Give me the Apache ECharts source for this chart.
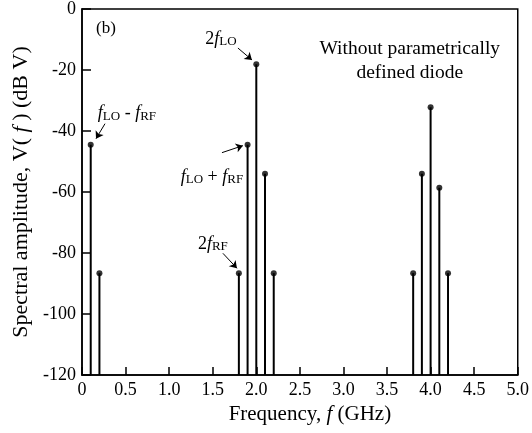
<!DOCTYPE html>
<html>
<head>
	<meta charset="utf-8">
	<title>Spectral amplitude</title>
	<script src="https://cdn.jsdelivr.net/npm/echarts@6/dist/echarts.min.js"></script>
	<style>
		html, body { margin: 0; padding: 0; background: #fff; }
		#chart { width: 532px; height: 433px; }
	</style>
</head>
<body>
	<div id="chart"></div>
	<script type="text/javascript">
	// spectral lines (GHz, dBV)
	var freqs = [0.1, 0.2, 1.8, 1.9, 2.0, 2.1, 2.2, 3.8, 3.9, 4.0, 4.1, 4.2];
	var amps = [-44.5, -86.6, -86.6, -44.5, -18.1, -54.0, -86.6, -86.6, -54.0, -32.2, -58.6, -86.6];
	var xTicks = [0, 0.5, 1.0, 1.5, 2.0, 2.5, 3.0, 3.5, 4.0, 4.5, 5.0];
	var yTicks = [-120, -100, -80, -60, -40, -20, 0];

	// annotation labels, placed in data coords
	var noteText = [
		'{b|(b)}',
		'{n|2}{i|f}{s|LO}',
		'{i|f}{s|LO}{n| - }{i|f}{s|RF}',
		'{i|f}{s|LO}{n| + }{i|f}{s|RF}',
		'{n|2}{i|f}{s|RF}',
		'{w|Without parametrically}\n{w|defined diode}'
	];
	var notePos = [[0.275, -6.5], [1.594, -9.5], [0.516, -34.0], [1.491, -54.9], [1.502, -76.8], [3.761, -17.0]];
	// arrows: from -> to
	var arrowFrom = [[1.789, -12.8], [0.264, -37.6], [1.606, -47.1], [1.617, -80.1]];
	var arrowTo = [[1.950, -16.7], [0.161, -42.5], [1.846, -44.8], [1.778, -85.0]];

	var serif = "'Liberation Serif', 'DejaVu Serif', serif";
	var yMin = yTicks[0];

	var points = freqs.map(function(f, i) { return [f, amps[i]]; });

	var rich = {
		b: { fontFamily: serif, fontSize: 17, color: '#000', lineHeight: 20 },
		n: { fontFamily: serif, fontSize: 18, color: '#000', lineHeight: 20, verticalAlign: 'bottom' },
		i: { fontFamily: serif, fontSize: 18, fontStyle: 'italic', color: '#000', lineHeight: 20, verticalAlign: 'bottom' },
		s: { fontFamily: serif, fontSize: 13, color: '#000', lineHeight: 12, verticalAlign: 'bottom' },
		w: { fontFamily: serif, fontSize: 19.5, color: '#000', lineHeight: 24, align: 'center' }
	};

	var myChart = echarts.init(document.getElementById('chart'));

	var option = {
		animation: false,
		backgroundColor: '#fff',
		grid: {
			left: 82,
			right: 14,
			top: 8,
			bottom: 58,
			show: true,
			borderColor: '#000',
			borderWidth: 1.5
		},
		xAxis: {
			type: 'value',
			min: xTicks[0],
			max: xTicks[xTicks.length - 1],
			interval: 0.5,
			name: '{n|Frequency, }{i|f}{n| (GHz)}',
			nameLocation: 'middle',
			nameGap: 19,
			nameTextStyle: {
				padding: [0, 0, 0, 20],
				rich: {
					n: { fontFamily: serif, fontSize: 21, color: '#000' },
					i: { fontFamily: serif, fontSize: 21, fontStyle: 'italic', color: '#000' }
				}
			},
			axisLine: { onZero: false, lineStyle: { color: '#000', width: 1.5 } },
			axisTick: { inside: true, length: 8, lineStyle: { color: '#000', width: 1.5 } },
			splitLine: { show: false },
			axisLabel: {
				showMinLabel: true,
				showMaxLabel: true,
				margin: 6,
				color: '#000',
				fontFamily: serif,
				fontSize: 18,
				formatter: function(v) { return v === 0 ? '0' : v.toFixed(1); }
			}
		},
		yAxis: {
			type: 'value',
			min: yMin,
			max: yTicks[yTicks.length - 1],
			interval: 20,
			name: '{n|Spectral amplitude, V( }{i|f}{n| ) (dB V)}',
			nameLocation: 'middle',
			nameGap: 45,
			nameTextStyle: {
				rich: {
					n: { fontFamily: serif, fontSize: 22, color: '#000' },
					i: { fontFamily: serif, fontSize: 22, fontStyle: 'italic', color: '#000' }
				}
			},
			axisLine: { onZero: false, lineStyle: { color: '#000', width: 1.5 } },
			axisTick: { inside: true, length: 9, lineStyle: { color: '#000', width: 1.5 } },
			splitLine: { show: false },
			axisLabel: {
				showMinLabel: true,
				showMaxLabel: true,
				margin: 6,
				color: '#000',
				fontFamily: serif,
				fontSize: 18
			}
		},
		series: [{
			// stems from the floor up to each level
			type: 'custom',
			data: points,
			silent: true,
			renderItem: function(params, api) {
				var top = api.coord([api.value(0), api.value(1)]);
				var bot = api.coord([api.value(0), yMin]);
				return {
					type: 'line',
					shape: { x1: top[0], y1: top[1], x2: bot[0], y2: bot[1] },
					style: { stroke: '#000', lineWidth: 2 }
				};
			}
		}, {
			type: 'scatter',
			data: points,
			symbol: 'circle',
			symbolSize: 6,
			itemStyle: { color: '#000' },
			silent: true,
			markPoint: {
				silent: true,
				symbol: 'rect',
				symbolSize: 1,
				itemStyle: { color: 'rgba(0,0,0,0)' },
				label: {
					show: true,
					position: 'inside',
					rich: rich,
					formatter: function(p) { return p.data.text; }
				},
				data: noteText.map(function(t, i) {
					return { coord: notePos[i], text: t };
				})
			},
			markLine: {
				silent: true,
				symbol: ['none', 'arrow'],
				symbolSize: 7,
				label: { show: false },
				lineStyle: { color: '#000', width: 1, type: 'solid' },
				data: arrowFrom.map(function(a, i) {
					return [{ coord: a }, { coord: arrowTo[i] }];
				})
			}
		}]
	};

	myChart.setOption(option);
	</script>
</body>
</html>
